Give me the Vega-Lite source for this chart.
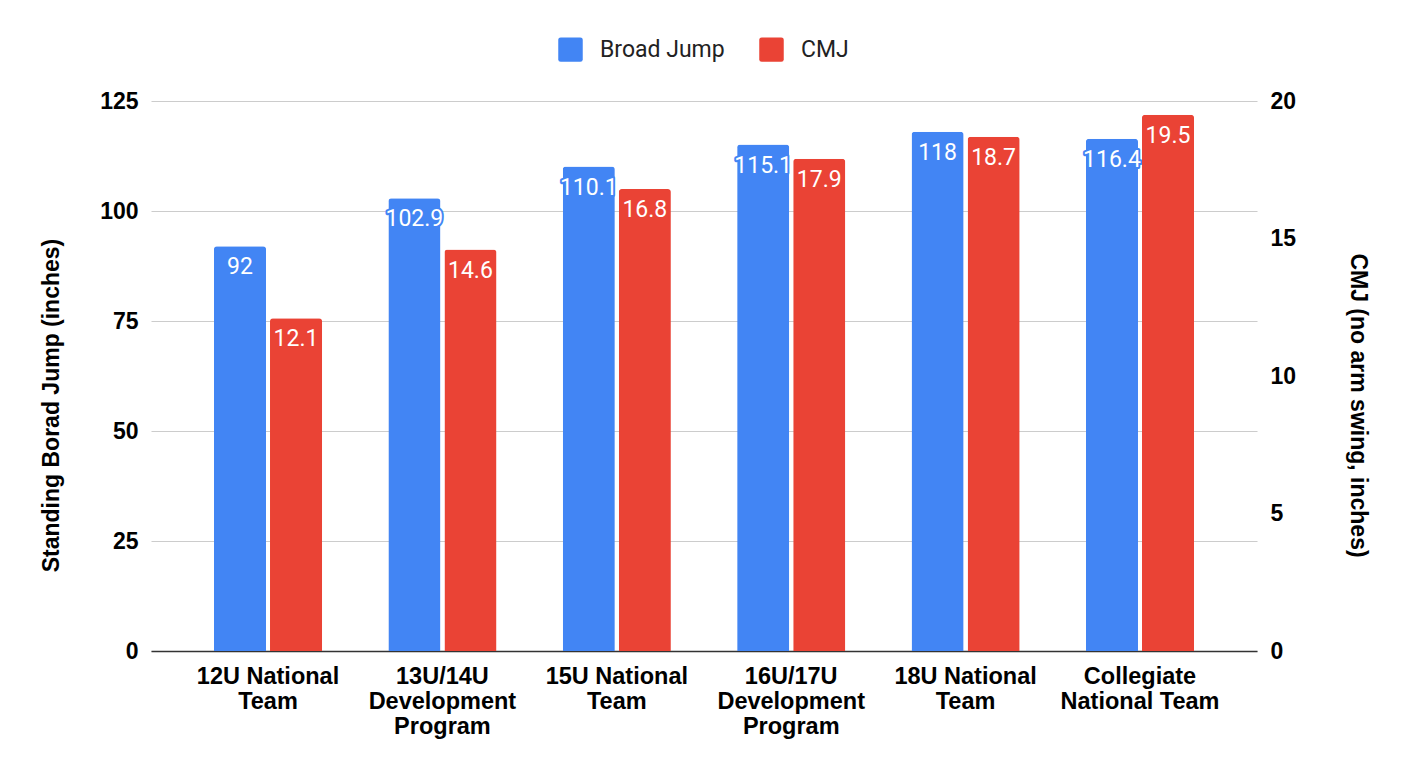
{
  "$schema": "https://vega.github.io/schema/vega-lite/v6.json",
  "autosize": "none",
  "width": 1106,
  "height": 550,
  "padding": {"left": 151, "top": 101, "right": 151, "bottom": 123},
  "background": "white",
  "config": {
    "view": {"stroke": null},
    "axis": {"labelFont": "Liberation Sans", "titleFont": "Liberation Sans", "labelColor": "#000", "titleColor": "#000"}
  },
  "data": {
    "values": [
      {"team": "12U National|Team", "broad": 92, "cmj": 12.1},
      {"team": "13U/14U|Development|Program", "broad": 102.9, "cmj": 14.6},
      {"team": "15U National|Team", "broad": 110.1, "cmj": 16.8},
      {"team": "16U/17U|Development|Program", "broad": 115.1, "cmj": 17.9},
      {"team": "18U National|Team", "broad": 118, "cmj": 18.7},
      {"team": "Collegiate|National Team", "broad": 116.4, "cmj": 19.5}
    ]
  },
  "encoding": {
    "x": {
      "field": "team",
      "type": "nominal",
      "sort": null,
      "scale": {"paddingInner": 0.38, "paddingOuter": 0.361},
      "axis": {
        "title": null,
        "labelAngle": 0,
        "labelExpr": "split(datum.label, '|')",
        "labelFontSize": 23.5,
        "labelFontWeight": "bold",
        "labelLineHeight": 25,
        "labelPadding": 13,
        "ticks": false,
        "domainColor": "#333333",
        "domainWidth": 1.5,
        "zindex": 0
      }
    }
  },
  "layer": [
    {
      "encoding": {
        "y": {
          "field": "broad",
          "type": "quantitative",
          "scale": {"domain": [0, 125], "nice": false},
          "axis": {
            "orient": "left",
            "title": "Standing Borad Jump (inches)",
            "titleFontSize": 23,
            "titleFontWeight": "bold",
            "titlePadding": 36,
            "titleY": 304,
            "values": [0, 25, 50, 75, 100, 125],
            "labelFontSize": 23,
            "labelFontWeight": "bold",
            "labelPadding": 13,
            "ticks": false,
            "domain": false,
            "gridColor": "#cccccc",
            "gridWidth": 1.2
          }
        },
        "xOffset": {"datum": "Broad Jump", "scale": {"domain": ["Broad Jump", "CMJ"], "paddingInner": 0.071, "paddingOuter": 0}}
      },
      "layer": [
        {
          "mark": {"type": "bar", "cornerRadiusTopLeft": 3, "cornerRadiusTopRight": 3},
          "encoding": {
            "color": {
              "datum": "Broad Jump",
              "scale": {"domain": ["Broad Jump", "CMJ"], "range": ["#4285F4", "#EA4335"]},
              "legend": {
                "title": null,
                "orient": "none",
                "direction": "horizontal",
                "legendX": 407,
                "legendY": -64,
                "padding": 0,
                "symbolType": "M -0.8,-1 H 0.8 Q 1,-1 1,-0.8 V 0.8 Q 1,1 0.8,1 H -0.8 Q -1,1 -1,0.8 V -0.8 Q -1,-1 -0.8,-1 Z",
                "symbolSize": 600,
                "symbolStrokeWidth": 0,
                "symbolOpacity": 1,
                "labelFont": "Roboto",
                "labelFontSize": 23,
                "labelColor": "#222222",
                "labelOffset": 17,
                "columnPadding": 34
              }
            }
          }
        },
        {
          "mark": {"type": "text", "font": "Roboto", "fontSize": 23, "baseline": "middle", "dy": 21, "stroke": "#4285F4", "strokeWidth": 4, "strokeJoin": "round", "fill": "#4285F4"},
          "encoding": {"text": {"field": "broad", "type": "quantitative", "format": "~r"}}
        },
        {
          "mark": {"type": "text", "font": "Roboto", "fontSize": 23, "baseline": "middle", "dy": 21, "fill": "white"},
          "encoding": {"text": {"field": "broad", "type": "quantitative", "format": "~r"}}
        }
      ]
    },
    {
      "encoding": {
        "y": {
          "field": "cmj",
          "type": "quantitative",
          "scale": {"domain": [0, 20], "nice": false},
          "axis": {
            "orient": "right",
            "title": "CMJ (no arm swing, inches)",
            "titleFontSize": 23,
            "titleFontWeight": "bold",
            "titlePadding": 50,
            "titleY": 304,
            "values": [0, 5, 10, 15, 20],
            "labelFontSize": 23,
            "labelFontWeight": "bold",
            "labelPadding": 13,
            "ticks": false,
            "domain": false,
            "grid": false
          }
        },
        "xOffset": {"datum": "CMJ"}
      },
      "layer": [
        {
          "mark": {"type": "bar", "cornerRadiusTopLeft": 3, "cornerRadiusTopRight": 3},
          "encoding": {"color": {"datum": "CMJ"}}
        },
        {
          "mark": {"type": "text", "font": "Roboto", "fontSize": 23, "baseline": "middle", "dy": 21, "stroke": "#EA4335", "strokeWidth": 4, "strokeJoin": "round", "fill": "#EA4335"},
          "encoding": {"text": {"field": "cmj", "type": "quantitative", "format": "~r"}}
        },
        {
          "mark": {"type": "text", "font": "Roboto", "fontSize": 23, "baseline": "middle", "dy": 21, "fill": "white"},
          "encoding": {"text": {"field": "cmj", "type": "quantitative", "format": "~r"}}
        }
      ]
    }
  ],
  "resolve": {"scale": {"y": "independent"}}
}
